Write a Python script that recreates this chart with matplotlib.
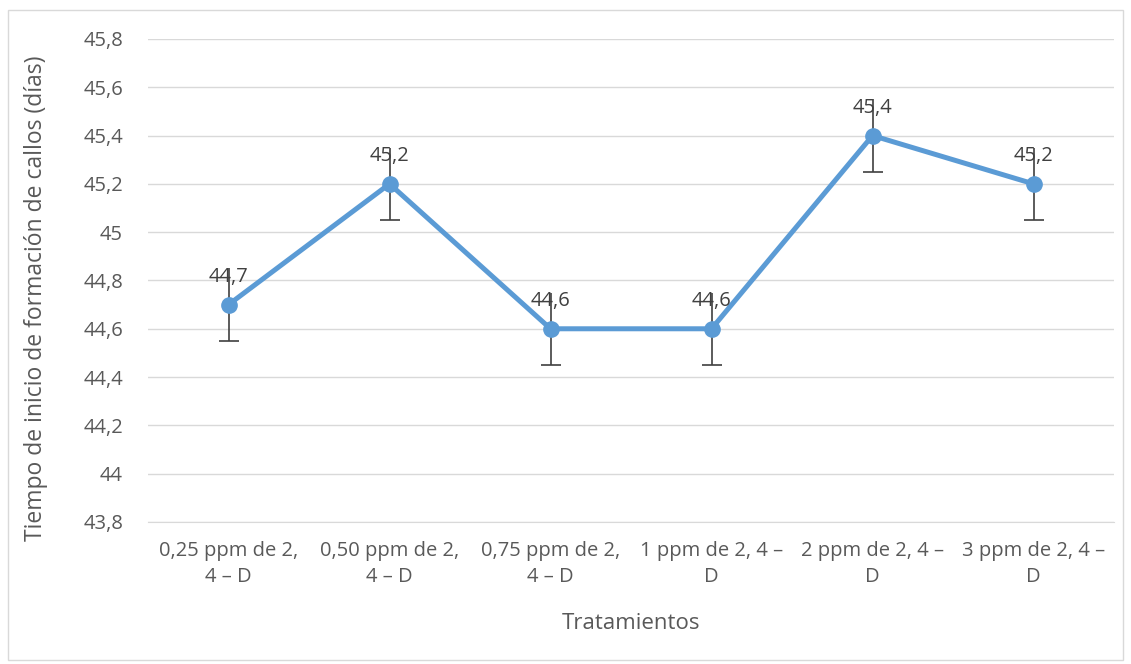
import matplotlib.pyplot as plt
from matplotlib.patches import Rectangle

################################################################################
# data ----
################################################################################

categories = ["0,25 ppm de 2,\n4 – D", "0,50 ppm de 2,\n4 – D", "0,75 ppm de 2,\n4 – D",
              "1 ppm de 2, 4 –\nD", "2 ppm de 2, 4 –\nD", "3 ppm de 2, 4 –\nD"]
values = [44.7, 45.2, 44.6, 44.6, 45.4, 45.2]
errors = [0.15, 0.15, 0.15, 0.15, 0.15, 0.15]
y_ticks = [43.8, 44.0, 44.2, 44.4, 44.6, 44.8, 45.0, 45.2, 45.4, 45.6, 45.8]

################################################################################
# plot ----
################################################################################

plt.rcParams['font.family'] = ['Open Sans', 'DejaVu Sans']
text_color = '#595959'
line_color = '#5B9BD5'
grid_color = '#D9D9D9'

fig = plt.figure(figsize=(11.31, 6.64), dpi=100)
ax = fig.add_axes([0.1309, 0.2139, 0.8541, 0.7274])

x = list(range(len(categories)))

# error bars (no cap on top, cap on bottom)
ax.errorbar(x, values, yerr=errors, fmt='none', ecolor='#404040', elinewidth=1.2, capsize=0, zorder=2)
ax.plot(x, [v - e for v, e in zip(values, errors)], linestyle='none', marker='_',
        markersize=14, markeredgewidth=1.2, color='#404040', zorder=2)

ax.plot(x, values, color=line_color, linewidth=3.6, marker='o', markersize=11,
        markerfacecolor=line_color, markeredgecolor=line_color, zorder=3)

for xi, v in zip(x, values):
    ax.annotate(f"{v:.1f}".replace('.', ','), (xi, v), xytext=(0, 13), textcoords='offset points',
                ha='center', va='bottom', fontsize=14.5, color='#404040', zorder=4)

ax.set_xlim(-0.5, len(categories) - 0.5)
ax.set_ylim(43.8, 45.8)
ax.set_yticks(y_ticks)
ax.set_yticklabels([f"{t:g}".replace('.', ',') for t in y_ticks])
ax.set_xticks(x)
ax.set_xticklabels(categories, linespacing=1.35)

ax.grid(axis='y', color=grid_color, linewidth=1)
ax.set_axisbelow(True)
for s in ['top', 'right', 'left']:
    ax.spines[s].set_visible(False)
ax.spines['bottom'].set_color(grid_color)
ax.tick_params(axis='both', length=0, labelsize=14.5, colors=text_color)
ax.tick_params(axis='x', pad=14)
ax.tick_params(axis='y', pad=18)

ax.set_xlabel("Tratamientos", fontsize=16, color=text_color, labelpad=19)
ax.set_ylabel("Tiempo de inicio de formación de callos (días)", fontsize=16.5, color=text_color)
ax.yaxis.set_label_coords(-0.104, 0.464)

# chart border
fig.patches.append(Rectangle((8 / 1131, 4 / 664), 1115 / 1131, 650 / 664, transform=fig.transFigure,
                             fill=False, edgecolor='#D9D9D9', linewidth=1))

fig.savefig('out.png', dpi=100)
